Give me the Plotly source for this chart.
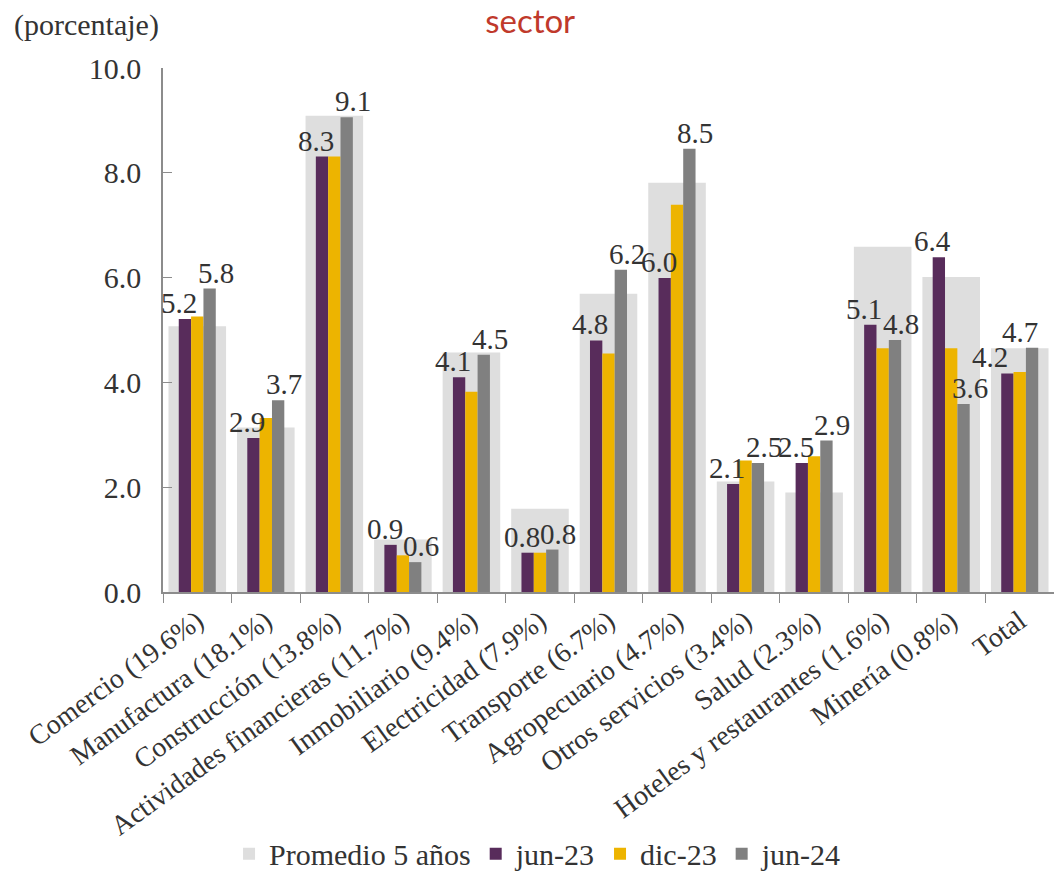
import plotly.graph_objects as go

categories = ["Comercio (19.6%)", "Manufactura (18.1%)", "Construcción (13.8%)",
              "Actividades financieras (11.7%)", "Inmobiliario (9.4%)", "Electricidad (7.9%)",
              "Transporte (6.7%)", "Agropecuario (4.7%)", "Otros servicios (3.4%)",
              "Salud (2.3%)", "Hoteles y restaurantes (1.6%)", "Minería (0.8%)", "Total"]
promedio = [5.07, 3.14, 9.09, 1.00, 4.57, 1.59, 5.69, 7.81, 2.11, 1.90, 6.59, 6.01, 4.65]
jun23 = [5.21, 2.94, 8.31, 0.90, 4.10, 0.75, 4.80, 5.99, 2.06, 2.46, 5.10, 6.39, 4.17]
dic23 = [5.26, 3.32, 8.31, 0.70, 3.82, 0.75, 4.55, 7.39, 2.51, 2.59, 4.65, 4.65, 4.20]
jun24 = [5.79, 3.66, 9.06, 0.57, 4.53, 0.81, 6.15, 8.46, 2.46, 2.89, 4.81, 3.59, 4.66]
yticks = [0, 2, 4, 6, 8, 10]

SERIF = "Liberation Serif"
TXT = "#333333"
BW = 0.18  # bar width in category units

fig = go.Figure()
fig.add_trace(go.Bar(name="Promedio 5 años", x=categories, y=promedio,
                     marker=dict(color="#DEDEDE", line=dict(width=0)),
                     width=0.84, offset=-0.42))
series = [("jun-23", jun23, "#582C5B", -1.5 * BW),
          ("dic-23", dic23, "#EDB400", -0.5 * BW),
          ("jun-24", jun24, "#808080", 0.5 * BW)]
for name, vals, col, off in series:
    fig.add_trace(go.Bar(
        name=name, x=categories, y=vals, width=BW, offset=off,
        marker=dict(color=col, line=dict(width=0))))

# data labels for jun-23 (nudged left) and jun-24 (nudged right), as in the reference
annotations = []
n = len(categories)
for vals, rel, nudge in [(jun23, -BW, -6), (jun24, BW, 6)]:
    for i, v in enumerate(vals):
        nd = nudge
        if i == n - 1:  # last group: labels kept inside the plot, pushed left
            nd = -17 if nudge < 0 else -12
        annotations.append(dict(
            x=i + rel, y=v, xref="x", yref="y", text=f"{v:.1f}", showarrow=False,
            xanchor="center", yanchor="bottom", xshift=nd, yshift=-2,
            font=dict(family=SERIF, size=29, color=TXT)))

annotations.append(dict(text="(porcentaje)", xref="paper", yref="paper",
                        x=(12 - 163) / 891, xanchor="left", y=(592 - 25) / 524,
                        yanchor="middle", showarrow=False,
                        font=dict(family=SERIF, size=30, color=TXT)))

fig.update_layout(
    width=1054, height=873,
    barmode="overlay",
    plot_bgcolor="white", paper_bgcolor="white",
    margin=dict(l=163, r=0, t=68, b=281, autoexpand=False),
    font=dict(family=SERIF, color=TXT),
    title=dict(text="sector", x=0.503, xanchor="center", y=0.975, yanchor="middle",
               font=dict(family="Lato", size=33, color="#C0392B")),
    showlegend=True,
    legend=dict(orientation="h", xref="container", yref="container",
                x=0.51, xanchor="center", y=0.022, yanchor="middle",
                font=dict(family=SERIF, size=30, color=TXT),
                itemwidth=30, tracegroupgap=0, traceorder="normal"),
    xaxis=dict(range=[-0.5, 12.5], showline=True, linecolor="#8C8C8C", linewidth=1.5,
               ticks="outside", tickson="boundaries", ticklen=9, tickcolor="#8C8C8C",
               tickangle=-36, tickfont=dict(family=SERIF, size=28, color=TXT),
               showgrid=False, zeroline=False, fixedrange=True, automargin=False),
    yaxis=dict(range=[0, 10], tickvals=yticks, tickformat=".1f", showline=True,
               linecolor="#8C8C8C", linewidth=1.5, ticks="inside", ticklen=9,
               tickcolor="#8C8C8C", tickfont=dict(family=SERIF, size=30, color=TXT),
               showgrid=False, zeroline=False, ticklabelstandoff=14, automargin=False),
    annotations=annotations,
)

fig.write_html("out.html")
